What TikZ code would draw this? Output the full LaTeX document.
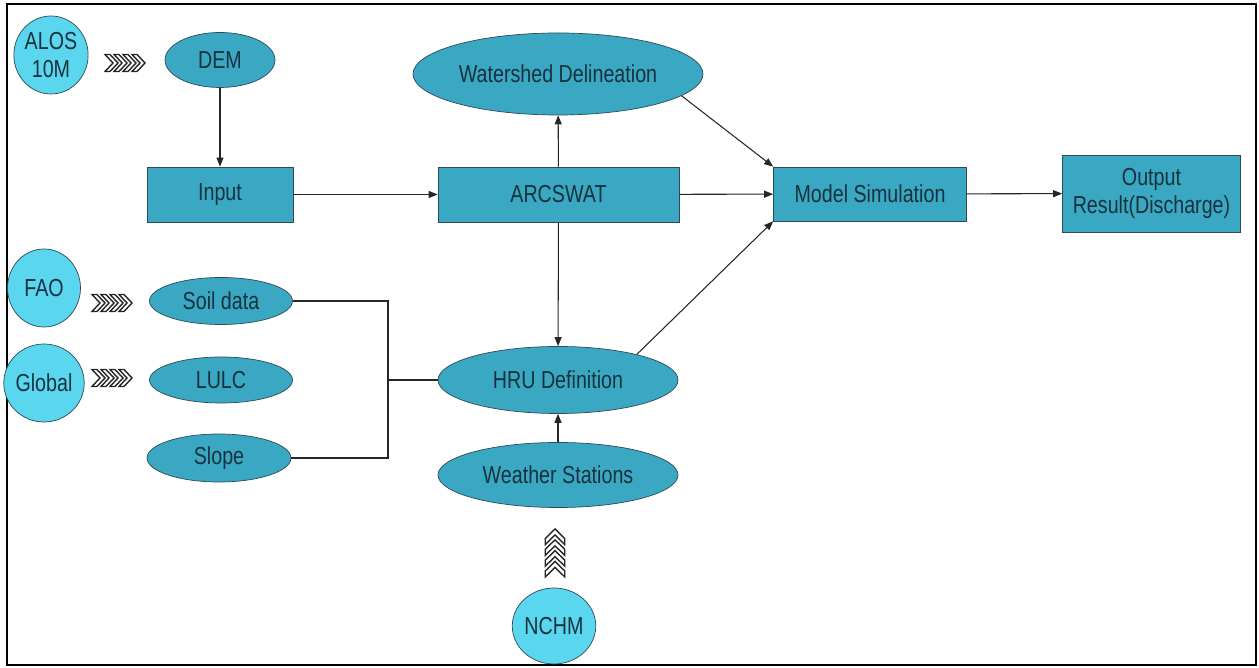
\documentclass[tikz,border=0pt]{standalone}
\usepackage{fontspec}
\setmainfont[FakeStretch=0.8]{Liberation Sans}
\usepackage{xcolor}
\usepackage{tikz}
\usetikzlibrary{shapes.geometric, arrows.meta, positioning}

\definecolor{tealbox}{HTML}{3AA8C2}
\definecolor{cyanfonte}{HTML}{5AD6EE}
\definecolor{textoesc}{HTML}{17323F}
\definecolor{borda}{HTML}{2E4A56}

\tikzset{
  caixa/.style={draw=borda, fill=tealbox, text=textoesc, minimum height=1.1cm, align=center},
  elipse/.style={ellipse, draw=borda, fill=tealbox, text=textoesc, inner sep=0pt},
  fonte/.style={ellipse, draw=borda, fill=cyanfonte, text=textoesc, inner sep=0pt, align=center, minimum width=1.46cm, minimum height=1.56cm},
  seta/.style={-{Triangle[length=1.8mm,width=1.4mm]}, line width=0.6pt, black!85},
  linha/.style={line width=0.7pt, black!85},
  chevline/.style={draw=black!85, fill=white, line width=0.8pt, line join=miter},
  chevs/.pic={
    \foreach \k in {0,...,3}
      \draw[chevline] (\k*0.18,0.17) -- ++(0.16,-0.17) -- ++(-0.16,-0.17) -- ++(0.1,0) -- ++(0.16,0.17) -- ++(-0.16,0.17) -- cycle;
  }
}

\begin{document}
\begin{tikzpicture}[font=\fontsize{14}{15.5}\selectfont]

\useasboundingbox (0,0) rectangle (25.18,13.34);

% Moldura
\draw[line width=0.8pt] (0.14,0.04) rectangle (25.12,13.26);

% Fontes de dados
\node[fonte] (alos) at (1.02,12.24) {ALOS\\10M};
\node[fonte] (fao) at (0.88,7.58) {FAO};
\node[fonte] (global) at (0.88,5.68) {Global};
\node[fonte, minimum width=1.44cm, minimum height=1.52cm] (nchm) at (11.08,0.82) {NCHM};

% Setas em chevron
\pic at (2.1,12.08) {chevs};
\pic at (1.84,7.28) {chevs};
\pic at (1.84,5.78) {chevs};
\pic[rotate=90, xscale=1.2, yscale=1.15] at (11.1,1.8) {chevs};

% Dados de entrada
\node[elipse, minimum width=2.2cm, minimum height=1.1cm] (dem) at (4.40,12.14) {DEM};
\node[elipse, minimum width=2.86cm, minimum height=0.94cm] (soil) at (4.42,7.32) {Soil data};
\node[elipse, minimum width=2.86cm, minimum height=0.92cm] (lulc) at (4.42,5.74) {LULC};
\node[elipse, minimum width=2.88cm, minimum height=0.96cm] (slope) at (4.38,4.18) {Slope};

% Blocos principais
\node[caixa, minimum width=2.92cm] (input) at (4.40,9.45) {Input};
\node[caixa, minimum width=4.82cm] (arcswat) at (11.17,9.45) {ARCSWAT};
\node[caixa, minimum width=3.86cm, minimum height=1.08cm] (model) at (17.40,9.46) {Model Simulation};
\node[caixa, minimum width=3.56cm, minimum height=1.54cm] (output) at (23.03,9.47) {Output\\Result(Discharge)};

% Elipses do ARCSWAT
\node[elipse, minimum width=5.8cm, minimum height=1.64cm] (wshed) at (11.16,11.86) {Watershed Delineation};
\node[elipse, minimum width=4.8cm, minimum height=1.34cm] (hru) at (11.16,5.74) {HRU Definition};
\node[elipse, minimum width=4.8cm, minimum height=1.3cm] (weather) at (11.16,3.84) {Weather Stations};

% Ligacoes
\draw[seta] (dem) -- (input);
\draw[seta] (input) -- (arcswat);
\draw[seta] (arcswat) -- (wshed);
\draw[seta] (arcswat) -- (hru);
\draw[seta] (arcswat) -- (model);
\draw[seta] (wshed.-10) -- (model.north west);
\draw[seta] (hru.18) -- (model.south west);
\draw[seta] (weather) -- (hru);
\draw[seta] (model) -- (output);

% Juncao solo / uso / declive
\coordinate (jn) at (7.76,5.74);
\draw[linha] (soil.east) -| (jn) |- (slope.east);
\draw[linha] (jn) -- (hru.west);

\end{tikzpicture}
\end{document}
